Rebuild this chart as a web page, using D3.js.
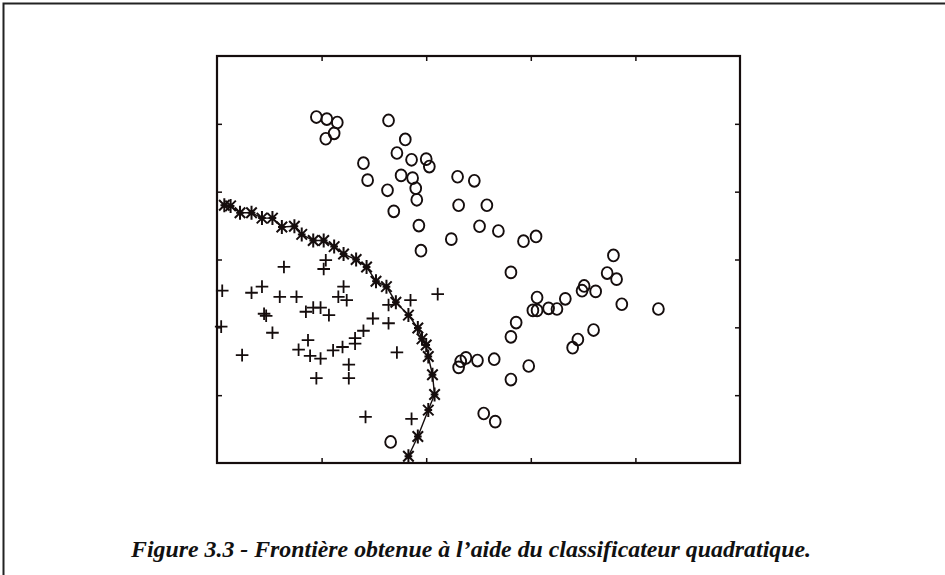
<!DOCTYPE html>
<html>
<head>
<meta charset="utf-8">
<script src="https://cdn.jsdelivr.net/npm/d3@7"></script>
<style>
  body { margin: 0; background: #fff; }
  svg { display: block; }
</style>
</head>
<body>
<svg id="chart" width="945" height="575"></svg>
<script>
// class 1 points (+)
const plusX = [0.64, 1.04, 1.02, 0.05, 0.33, 0.43, 0.60, 0.76, 1.21, 1.16, 1.24, 0.45, 0.47, 0.85,
    0.92, 0.99, 1.07, 1.85, 2.11, 1.64, 1.49, 1.64, 0.04, 0.53, 1.40, 1.32, 1.32, 0.87, 1.20, 1.11,
    0.78, 0.89, 0.99, 0.24, 1.72, 1.26, 1.26, 0.95, 1.42, 1.86];
const plusY = [2.89, 2.99, 2.86, 2.54, 2.51, 2.60, 2.45, 2.45, 2.60, 2.45, 2.40, 2.20, 2.17, 2.23,
    2.29, 2.29, 2.18, 2.40, 2.49, 2.33, 2.13, 2.06, 2.01, 1.92, 1.95, 1.84, 1.76, 1.81, 1.71, 1.66,
    1.67, 1.58, 1.54, 1.59, 1.63, 1.45, 1.25, 1.25, 0.68, 0.65];

// class 2 points (o)
const circX = [0.95, 1.05, 1.15, 1.12, 1.04, 1.64, 1.80, 1.72, 1.86, 2.00, 2.03, 1.40, 1.44, 1.76,
    1.87, 1.63, 1.90, 1.91, 1.69, 1.93, 2.30, 2.46, 2.31, 2.58, 2.51, 2.69, 2.24, 1.95, 2.93, 3.05,
    2.81, 3.79, 3.73, 3.82, 3.51, 3.49, 3.62, 3.06, 3.33, 3.87, 4.22, 3.02, 3.06, 3.17, 3.25, 2.86,
    2.81, 3.60, 3.45, 3.40, 2.31, 2.33, 2.38, 2.49, 2.65, 2.98, 2.81, 2.55, 2.66, 1.66];
const circY = [5.10, 5.07, 5.02, 4.86, 4.78, 5.05, 4.77, 4.57, 4.47, 4.48, 4.37, 4.42, 4.17, 4.24,
    4.20, 4.02, 4.05, 3.88, 3.71, 3.50, 4.22, 4.16, 3.80, 3.80, 3.49, 3.42, 3.30, 3.13, 3.27, 3.34,
    2.81, 3.06, 2.80, 2.71, 2.61, 2.54, 2.53, 2.44, 2.42, 2.34, 2.27, 2.25, 2.25, 2.28, 2.27, 2.07,
    1.86, 1.96, 1.82, 1.70, 1.41, 1.50, 1.55, 1.51, 1.53, 1.43, 1.23, 0.73, 0.61, 0.31];

// quadratic decision boundary (*)
const boundX = [0.07, 0.13, 0.22, 0.33, 0.43, 0.53, 0.62, 0.74, 0.81, 0.92, 1.02, 1.12, 1.21, 1.33,
    1.43, 1.52, 1.62, 1.71, 1.83, 1.92, 1.96, 2.00, 2.02, 2.06, 2.08, 2.02, 1.92, 1.83];
const boundY = [3.80, 3.79, 3.69, 3.69, 3.61, 3.61, 3.48, 3.49, 3.37, 3.28, 3.28, 3.19, 3.08, 3.00,
    2.89, 2.68, 2.60, 2.37, 2.18, 1.99, 1.83, 1.74, 1.57, 1.30, 1.01, 0.78, 0.39, 0.10];

const xTicks = [1, 2, 3, 4];
const yTicks = [1, 2, 3, 4, 5];
const caption = "Figure 3.3 - Frontière obtenue à l’aide du classificateur quadratique.";

const ink = "#150d0d";
const svg = d3.select("#chart");

// page frame (top and left edges only)
svg.append("path")
    .attr("d", "M3.5,575 V3.5 H945")
    .attr("fill", "none")
    .attr("stroke", "#222")
    .attr("stroke-width", 2);

const box = {left: 217, right: 740, top: 56, bottom: 463};

const x = d3.scaleLinear().domain([0, 5]).range([box.left, box.right]);
const y = d3.scaleLinear().domain([0, 6]).range([box.bottom, box.top]);

const plot = svg.append("g");

// ticks pointing inward on every side
function addAxis(axis, tx, ty) {
    const g = plot.append("g")
        .attr("transform", `translate(${tx},${ty})`)
        .call(axis.tickSizeOuter(0).tickFormat(""));
    g.select(".domain").remove();
    g.selectAll(".tick line").attr("stroke", ink).attr("stroke-width", 1.5);
}
addAxis(d3.axisBottom(x).tickValues(xTicks).tickSizeInner(-5), 0, box.bottom);
addAxis(d3.axisTop(x).tickValues(xTicks).tickSizeInner(-5), 0, box.top);
addAxis(d3.axisLeft(y).tickValues(yTicks).tickSizeInner(-5), box.left, 0);
addAxis(d3.axisRight(y).tickValues(yTicks).tickSizeInner(-5), box.right, 0);

plot.append("rect")
    .attr("x", box.left)
    .attr("y", box.top)
    .attr("width", box.right - box.left)
    .attr("height", box.bottom - box.top)
    .attr("fill", "none")
    .attr("stroke", ink)
    .attr("stroke-width", 2.2);

// circles (slightly tall, like the printed markers)
plot.append("g")
    .selectAll("ellipse")
    .data(d3.range(circX.length))
    .join("ellipse")
    .attr("cx", i => x(circX[i]))
    .attr("cy", i => y(circY[i]))
    .attr("rx", 5.4)
    .attr("ry", 5.9)
    .attr("fill", "none")
    .attr("stroke", ink)
    .attr("stroke-width", 1.9);

// plus markers
const p = 6.3;
plot.append("g")
    .selectAll("path")
    .data(d3.range(plusX.length))
    .join("path")
    .attr("transform", i => `translate(${x(plusX[i])},${y(plusY[i])})`)
    .attr("d", `M${-p},0H${p}M0,${-p}V${p}`)
    .attr("fill", "none")
    .attr("stroke", ink)
    .attr("stroke-width", 1.8);

// boundary line + asterisks
const line = d3.line().x(i => x(boundX[i])).y(i => y(boundY[i]));
plot.append("path")
    .attr("d", line(d3.range(boundX.length)))
    .attr("fill", "none")
    .attr("stroke", ink)
    .attr("stroke-width", 1.4);

const s = 7, sd = s * 0.75;
plot.append("g")
    .selectAll("path")
    .data(d3.range(boundX.length))
    .join("path")
    .attr("transform", i => `translate(${x(boundX[i])},${y(boundY[i])})`)
    .attr("d", `M0,${-s}V${s}M${-sd},${-sd}L${sd},${sd}M${-sd},${sd}L${sd},${-sd}M${-s * 0.55},0H${s * 0.55}`)
    .attr("fill", "none")
    .attr("stroke", ink)
    .attr("stroke-width", 2);

svg.append("text")
    .attr("x", 471)
    .attr("y", 557)
    .attr("text-anchor", "middle")
    .attr("font-family", "'Liberation Serif', 'Times New Roman', serif")
    .attr("font-weight", "bold")
    .attr("font-style", "italic")
    .attr("font-size", 24)
    .attr("textLength", 680)
    .attr("lengthAdjust", "spacingAndGlyphs")
    .attr("fill", "#111")
    .text(caption);
</script>
</body>
</html>
